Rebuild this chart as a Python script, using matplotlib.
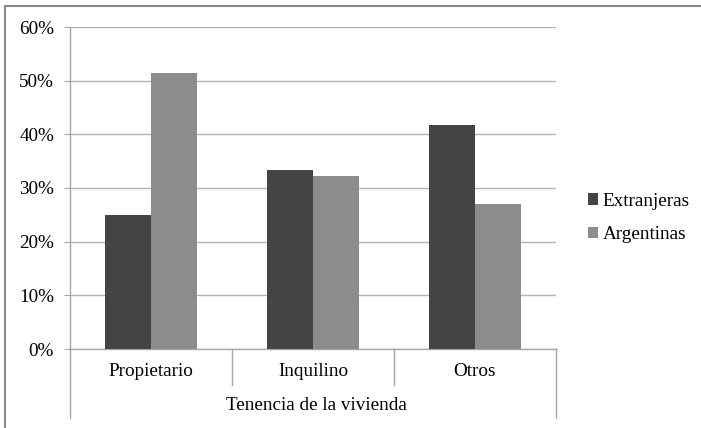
import matplotlib
matplotlib.use("Agg")
import matplotlib.pyplot as plt
import numpy as np
from matplotlib.lines import Line2D
from matplotlib.patches import Patch
import matplotlib.transforms as mtransforms
from matplotlib.ticker import FuncFormatter

categories = ["Propietario", "Inquilino", "Otros"]
extranjeras = [24.9, 33.4, 41.8]
argentinas = [51.5, 32.3, 27.0]
series_names = ["Extranjeras", "Argentinas"]
axis_title = "Tenencia de la vivienda"
yticks = [0, 10, 20, 30, 40, 50, 60]

plt.rcParams['font.family'] = ['Liberation Serif', 'DejaVu Serif']

W, H = 701, 428
fig = plt.figure(figsize=(W / 100, H / 100), dpi=100)
fig.patch.set_facecolor('white')

left, right, top, bottom = 70, 556, 27, 349
ax = fig.add_axes([left / W, 1 - bottom / H, (right - left) / W, (bottom - top) / H])

dark = '#444444'
light = '#8c8c8c'
grid_c = '#b3b3b3'
axis_c = '#a6a6a6'
fs = 13.8

x = np.arange(len(categories))
bw = 46 / 162
ax.bar(x - bw / 2, extranjeras, bw, color=dark, zorder=3, label=series_names[0])
ax.bar(x + bw / 2, argentinas, bw, color=light, zorder=3, label=series_names[1])

ax.set_xlim(-0.5, len(categories) - 0.5)
ax.set_ylim(0, 60)
ax.set_yticks(yticks)
ax.yaxis.set_major_formatter(FuncFormatter(lambda v, p: f"{int(v)}%"))
ax.grid(axis='y', color=grid_c, linewidth=1.0, zorder=0)
ax.set_axisbelow(True)
for s in ['top', 'right']:
    ax.spines[s].set_visible(False)
for s in ['left', 'bottom']:
    ax.spines[s].set_color(axis_c)
    ax.spines[s].set_linewidth(1.0)
ax.tick_params(axis='y', direction='out', length=4.5, color=axis_c, labelsize=fs, pad=7)
ax.set_xticks([])

trans = mtransforms.blended_transform_factory(ax.transData, ax.transAxes)
ph = bottom - top
sep_y = -(385 - bottom) / ph
out_y = -(418 - bottom) / ph
for xs in [0.5, 1.5]:
    ax.add_line(Line2D([xs, xs], [0, sep_y], transform=trans, color=axis_c, lw=1.0, clip_on=False))
for xs in [-0.5, len(categories) - 0.5]:
    ax.add_line(Line2D([xs, xs], [0, out_y], transform=trans, color=axis_c, lw=1.0, clip_on=False))

lab_y = -(371 - bottom) / ph
for xi, c in zip(x, categories):
    ax.text(xi, lab_y, c, transform=trans, ha='center', va='center', fontsize=fs, color='black')
ax.text(1.02, -(406 - bottom) / ph, axis_title, transform=trans, ha='center', va='center',
        fontsize=fs, color='black')

handles = [Patch(facecolor=dark, edgecolor='none'), Patch(facecolor=light, edgecolor='none')]
fig.legend(handles, series_names, loc='center left', bbox_to_anchor=(578 / W, 1 - 218 / H),
           frameon=False, fontsize=fs, handlelength=0.55, handleheight=0.55,
           handletextpad=0.25, labelspacing=0.85, borderpad=0)

frame_c = '#8a8a8a'
fig.add_artist(Line2D([4.5 / W, 4.5 / W], [0, 1 - 5.5 / H], transform=fig.transFigure, color=frame_c, lw=1.5))
fig.add_artist(Line2D([4.5 / W, 1], [1 - 5.5 / H, 1 - 5.5 / H], transform=fig.transFigure, color=frame_c, lw=1.5))

fig.savefig("out.png", dpi=100, facecolor='white')
